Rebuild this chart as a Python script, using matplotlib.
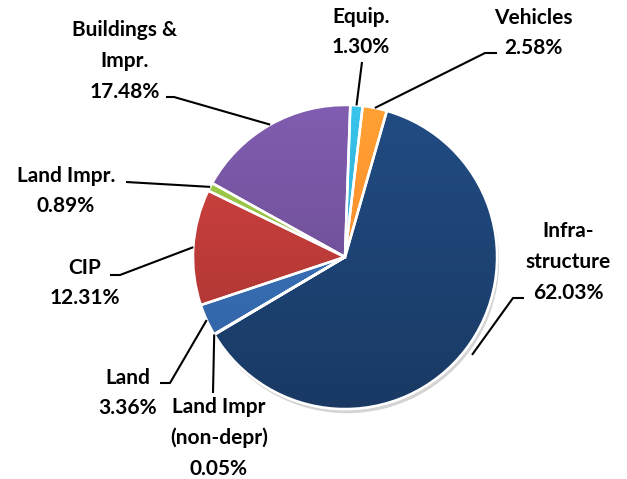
import numpy as np
import matplotlib.pyplot as plt
import matplotlib.patheffects as pe
from matplotlib.patches import Wedge
from matplotlib.colors import to_rgb

# ==========================================
# Data
# ==========================================
labels = ['Equip.', 'Vehicles', 'Infra-\nstructure', 'Land Impr\n(non-depr)',
          'Land', 'CIP', 'Land Impr.', 'Buildings &\nImpr.']
shares = [1.30, 2.58, 62.03, 0.05, 3.36, 12.31, 0.89, 17.48]
colors = ['#33b2d6', '#f7922f', '#1e4577', '#5a7fb0',
          '#3a72bb', '#c23d3a', '#96c245', '#7554a0']
explode = [0, 0, 0.055, 0, 0, 0, 0, 0]

# label block centre (image px) and leader elbow (text end -> elbow)
label_pos = [(361, 32), (533, 33), (568, 262), (219, 438),
             (128, 393), (85, 283), (66, 191), (125, 61)]
leader_from = [(362, 62), (497, 53), (524, 298), (213, 393),
               (160, 383), (110, 275), (126, 182), (166, 97)]
leader_elbow = [(362, 62), (485, 53), (513, 298), (213, 393),
                (170, 383), (120, 275), (126, 182), (174, 97)]

W, H = 627, 479
CX, CY, R = 345, 257, 152
START = 88

plt.rcParams['font.family'] = ['Lato', 'DejaVu Sans']

fig = plt.figure(figsize=(W / 100, H / 100), dpi=100)
ax = fig.add_axes([0, 0, 1, 1])

wedges, _ = ax.pie(shares, colors=colors, explode=explode, startangle=START,
                   counterclock=False, center=(CX, H - CY), radius=R,
                   wedgeprops=dict(edgecolor='white', linewidth=1.8))

# soft shadow + vertical gradient like the Excel look
ext = (CX - R - 15, CX + R + 15, H - CY - R - 15, H - CY + R + 15)
ramp = np.linspace(1.12, 0.82, 200)[:, None]
for w, c in zip(wedges, colors):
    w.set_path_effects([pe.SimplePatchShadow(offset=(1.5, -3), shadow_rgbFace='0.45', alpha=0.3),
                        pe.Normal()])
    rgb = np.array(to_rgb(c))
    img = np.clip(ramp[:, :, None] * rgb[None, None, :], 0, 1) * np.ones((1, 2, 1))
    im = ax.imshow(img, extent=ext, origin='upper', aspect='auto',
                   interpolation='bilinear', zorder=2)
    im.set_clip_path(w)
    ax.add_patch(Wedge(w.center, w.r, w.theta1, w.theta2, facecolor='none',
                       edgecolor='white', lw=1.8, zorder=2.5))

# labels + leader lines
cum = np.cumsum([0] + shares[:-1])
for i, w in enumerate(wedges):
    mid = START - (cum[i] + shares[i] / 2) / 100 * 360
    t = np.deg2rad(mid)
    off = explode[i] * R
    cx = CX + off * np.cos(t)
    cy = (H - CY) + off * np.sin(t)
    ex = cx + R * np.cos(t)
    ey = cy + R * np.sin(t)
    p0, p1 = leader_from[i], leader_elbow[i]
    ax.plot([p0[0], p1[0], ex], [H - p0[1], H - p1[1], ey],
            color='black', lw=1.5, solid_capstyle='butt', zorder=3)
    pct = f'{shares[i]:.2f}%'
    lx, ly = label_pos[i]
    ax.text(lx, H - ly, labels[i] + '\n' + pct, ha='center', va='center',
            fontsize=15, fontweight='bold', linespacing=1.66, zorder=4)

ax.set_xlim(0, W)
ax.set_ylim(0, H)
ax.set_aspect('equal')
ax.axis('off')

fig.savefig('out.png', dpi=100)
